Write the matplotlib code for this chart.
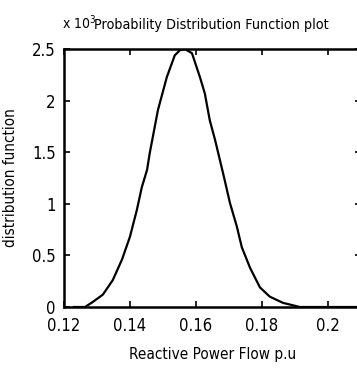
import matplotlib
matplotlib.use('Agg')
import matplotlib.pyplot as plt
from matplotlib import font_manager
import numpy as np

# values (x in p.u., y in units of 10^3)
flow = [0.1230, 0.1264, 0.1288, 0.1318, 0.1348, 0.1376, 0.1400, 0.1421, 0.1436,
        0.1452, 0.1460, 0.1485, 0.1512, 0.1536, 0.1552, 0.1567, 0.1588, 0.1612,
        0.1627, 0.1642, 0.1658, 0.1673, 0.1685, 0.1703, 0.1724, 0.1739, 0.1764,
        0.1794, 0.1824, 0.1864, 0.1915, 0.2000, 0.2100]
dens = [0.0, 0.0, 0.05, 0.12, 0.26, 0.46, 0.68, 0.94, 1.16,
        1.33, 1.49, 1.91, 2.23, 2.44, 2.49, 2.50, 2.46, 2.23,
        2.07, 1.81, 1.62, 1.42, 1.26, 1.01, 0.78, 0.58, 0.38,
        0.19, 0.10, 0.04, 0.0, 0.0, 0.0]

xticks = [0.12, 0.14, 0.16, 0.18, 0.2]
xticklabels = ['0.12', '0.14', '0.16', '0.18', '0.2']
yticks = [0, 0.5, 1, 1.5, 2, 2.5]
yticklabels = ['0', '0.5', '1', '1.5', '2', '2.5']

names = set(f.name for f in font_manager.fontManager.ttflist)
fam = [n for n in ['Liberation Sans Narrow', 'Arial Narrow'] if n in names] + ['DejaVu Sans']
plt.rcParams['font.family'] = fam
plt.rcParams['font.stretch'] = 'condensed'

fig = plt.figure(figsize=(3.57, 3.69), dpi=100)
ax = fig.add_axes([0.179, 0.168, 0.832, 0.699])
ax.plot(flow, dens, color='black', lw=1.6)

ax.set_xlim(0.12, 0.21)
ax.set_ylim(0, 2.5)
ax.set_xticks(xticks)
ax.set_xticklabels(xticklabels)
ax.set_yticks(yticks)
ax.set_yticklabels(yticklabels)

ax.tick_params(direction='in', top=True, right=True, length=4, width=1.2,
               labelsize=12)
ax.tick_params(axis='x', pad=7)
ax.tick_params(axis='y', pad=6)
for s in ax.spines.values():
    s.set_linewidth(1.8)

# MATLAB style exponent label, sits just left of the title
ax.text(-0.008, 1.065, r'x 10$^{3}$', transform=ax.transAxes, fontsize=10,
        ha='left', va='bottom')
ax.text(0.102, 1.065, 'Probability Distribution Function plot', transform=ax.transAxes,
        fontsize=10.3, ha='left', va='bottom')
ax.set_xlabel('Reactive Power Flow p.u', fontsize=11, labelpad=9)
ax.set_ylabel('distribution function', fontsize=11, labelpad=10)

fig.savefig('out.png', dpi=100)
